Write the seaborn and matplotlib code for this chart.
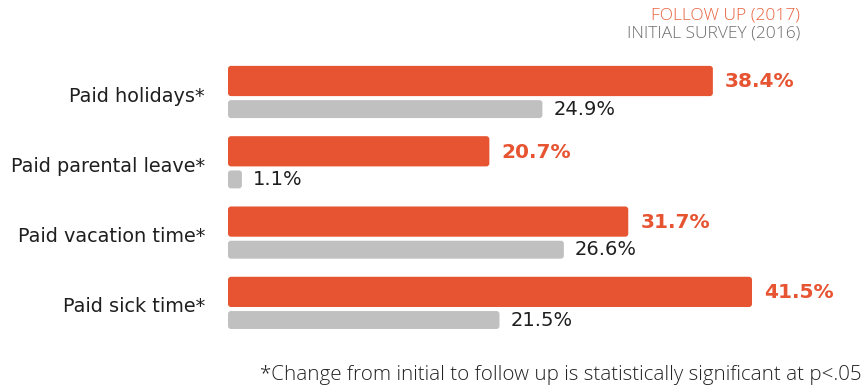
import matplotlib
matplotlib.use("Agg")
import matplotlib.pyplot as plt
from matplotlib.patches import FancyBboxPatch
import seaborn as sns
import numpy as np
import pandas as pd

categories = ["Paid holidays*", "Paid parental leave*", "Paid vacation time*", "Paid sick time*"]
follow_up_2017 = [38.4, 20.7, 31.7, 41.5]
initial_2016 = [24.9, 1.1, 26.6, 21.5]
legend_labels = ["FOLLOW UP (2017)", "INITIAL SURVEY (2016)"]
footnote = "*Change from initial to follow up is statistically significant at p<.05"

ORANGE = "#E65431"
ORANGE_LEGEND = "#E8623F"
GRAY = "#C0C0C0"
GRAY_TEXT = "#6E6E6E"
DARK = "#1f1f1f"

sns.set_style("white")
plt.rcParams["font.family"] = ["DejaVu Sans"]

W, H, DPI = 867, 387, 100
fig = plt.figure(figsize=(W / DPI, H / DPI), dpi=DPI)
ax = fig.add_axes([228 / W, 0, 524 / W, 1])

idx = np.arange(len(categories))
gray_offset = 0.40
df_follow = pd.DataFrame({"pos": idx.astype(float), "value": follow_up_2017})
df_init = pd.DataFrame({"pos": idx + gray_offset, "value": initial_2016})

sns.barplot(data=df_follow, x="value", y="pos", orient="h", native_scale=True,
            width=0.43, color=ORANGE, saturation=1, ax=ax, errorbar=None)
sns.barplot(data=df_init, x="value", y="pos", orient="h", native_scale=True,
            width=0.255, color=GRAY, saturation=1, ax=ax, errorbar=None)

ax.set_xlim(0, max(follow_up_2017))
ax.set_ylim(4.353, -1.152)

# swap the square bars for slightly rounded ones
px_x = 524 / max(follow_up_2017)
px_y = H / (4.353 + 1.152)
r = 3.0
for p in list(ax.patches):
    x0, y0 = p.get_x(), p.get_y()
    w, h = p.get_width(), p.get_height()
    fb = FancyBboxPatch((x0, y0), w, h,
                        boxstyle=f"round,pad=0,rounding_size={r / px_x}",
                        mutation_aspect=px_x / px_y,
                        facecolor=p.get_facecolor(), edgecolor="none",
                        linewidth=0)
    p.remove()
    ax.add_patch(fb)

ax.axis("off")

for i, (cat, f, g) in enumerate(zip(categories, follow_up_2017, initial_2016)):
    ax.annotate(cat, (0, i + 0.2), xytext=(-23, -1), textcoords="offset pixels",
                ha="right", va="center", fontsize=13.9, color=DARK,
                annotation_clip=False)
    ax.annotate(f"{f:.1f}%", (f, i), xytext=(12, -1), textcoords="offset pixels",
                ha="left", va="center", fontsize=14.5, fontweight="bold",
                color=ORANGE, annotation_clip=False)
    ax.annotate(f"{g:.1f}%", (g, i + gray_offset), xytext=(11, 0),
                textcoords="offset pixels", ha="left", va="center",
                fontsize=14, color=DARK, annotation_clip=False)

side_font = ["Open Sans", "DejaVu Sans"]
fig.text(800 / W, 1 - 16 / H, legend_labels[0], ha="right", va="center",
         fontsize=12.5, fontweight="light", color=ORANGE_LEGEND, family=side_font)
fig.text(800 / W, 1 - 34 / H, legend_labels[1], ha="right", va="center",
         fontsize=12.5, fontweight="light", color=GRAY_TEXT, family=side_font)
fig.text(862 / W, 1 - 375 / H, footnote, ha="right", va="center",
         fontsize=14.8, fontweight="light", color="#222222", family=side_font)

fig.savefig("out.png", dpi=DPI)
